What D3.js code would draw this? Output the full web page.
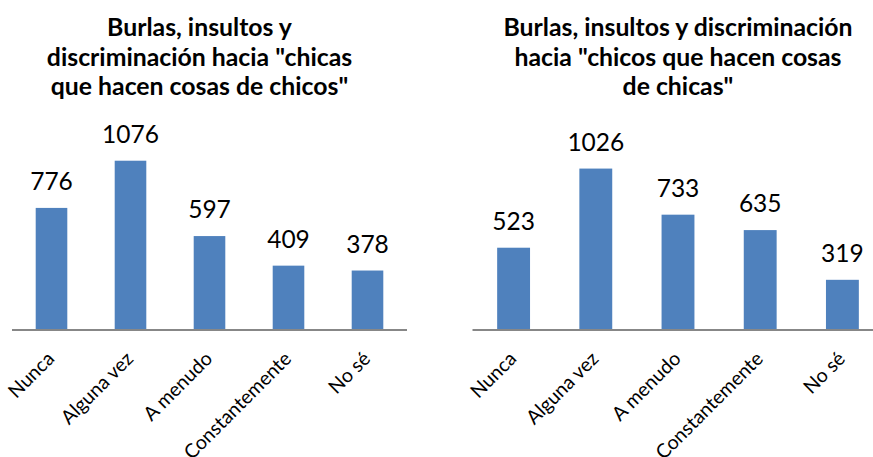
<!DOCTYPE html>
<html>
<head>
<meta charset="utf-8">
<script src="https://cdn.jsdelivr.net/npm/d3@7"></script>
<style>
  html, body { margin: 0; padding: 0; background: #fff; }
  svg { display: block; }
  text { font-family: Lato, "Open Sans", sans-serif; fill: #000; }
</style>
</head>
<body>
<svg id="chart" width="873" height="457"></svg>
<script>
// Answer categories shared by both panels
const categories = ["Nunca", "Alguna vez", "A menudo", "Constantemente", "No sé"];

// Counts: mockery towards girls who do "boys' things"
const chicasValues = [776, 1076, 597, 409, 378];
// Counts: mockery towards boys who do "girls' things"
const chicosValues = [523, 1026, 733, 635, 319];

const chicasTitle = ["Burlas, insultos y", "discriminación hacia \"chicas", "que hacen cosas de chicos\""];
const chicosTitle = ["Burlas, insultos y discriminación", "hacia \"chicos que hacen cosas", "de chicas\""];

const yMax = 1200;

const svg = d3.select("#chart");

function panel(cfg) {
  const g = svg.append("g");

  const x = d3.scaleBand()
    .domain(categories)
    .range([cfg.x0, cfg.x1])
    .paddingInner(0.6)
    .paddingOuter(0.3);

  const y = d3.scaleLinear()
    .domain([0, yMax])
    .range([330, 141.2]);

  // Title
  g.append("text")
    .attr("text-anchor", "middle")
    .attr("font-weight", "bold")
    .attr("font-size", 24.8)
    .selectAll("tspan")
    .data(cfg.title)
    .join("tspan")
    .attr("x", cfg.titleX)
    .attr("y", (d, i) => 36 + i * 29.5)
    .text(d => d);

  // Bars
  g.selectAll("rect.bar")
    .data(cfg.values)
    .join("rect")
    .attr("class", "bar")
    .attr("x", (d, i) => x(categories[i]))
    .attr("width", x.bandwidth())
    .attr("y", d => y(d))
    .attr("height", d => y(0) - y(d))
    .attr("fill", "#4F81BD");

  // Value labels
  g.selectAll("text.val")
    .data(cfg.values)
    .join("text")
    .attr("class", "val")
    .attr("text-anchor", "middle")
    .attr("font-size", 24.5)
    .attr("x", (d, i) => x(categories[i]) + x.bandwidth() / 2)
    .attr("y", d => y(d) - 18)
    .text(d => d);

  // Category axis line
  const axis = d3.axisBottom(x).tickSize(0).tickPadding(0);
  const ax = g.append("g")
    .attr("transform", `translate(0,${y(0)})`)
    .call(axis);
  ax.select(".domain")
    .attr("stroke", "#878787")
    .attr("stroke-width", 2)
    .attr("d", `M${cfg.x0},0H${cfg.x1}`);
  ax.selectAll(".tick text")
    .attr("font-family", "Lato, sans-serif")
    .attr("font-size", 19.5)
    .attr("fill", "#000")
    .attr("text-anchor", "end")
    .attr("dy", 0)
    .attr("y", 0)
    .attr("x", 0)
    .attr("transform", "translate(4,30) rotate(-45)");
}

panel({ x0: 12, x1: 407, values: chicasValues, title: chicasTitle, titleX: 199.5 });
panel({ x0: 472.5, x1: 883.5, values: chicosValues, title: chicosTitle, titleX: 678 });
</script>
</body>
</html>
